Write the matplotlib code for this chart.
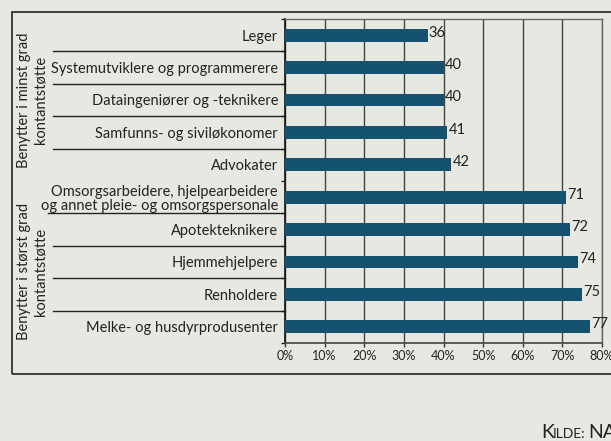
import numpy as np
import matplotlib
matplotlib.use('Agg')
import matplotlib.pyplot as plt
from matplotlib.lines import Line2D
from matplotlib.patches import Rectangle

# data, top to bottom
yrker = ['Leger',
         'Systemutviklere og programmerere',
         'Dataingeniører og -teknikere',
         'Samfunns- og siviløkonomer',
         'Advokater',
         'Omsorgsarbeidere, hjelpearbeidere\nog annet pleie- og omsorgspersonale',
         'Apotekteknikere',
         'Hjemmehjelpere',
         'Renholdere',
         'Melke- og husdyrprodusenter']
andel = [36, 40, 40, 41, 42, 71, 72, 74, 75, 77]
grupper = ['Benytter i minst grad\nkontantstøtte', 'Benytter i størst grad\nkontantstøtte']
xticks = [0, 10, 20, 30, 40, 50, 60, 70, 80]

bg = '#e8e8e3'
bar_col = '#14526f'
plt.rcParams['font.family'] = ['Lato', 'DejaVu Sans']

fig = plt.figure(figsize=(6.11, 4.41), dpi=100, facecolor=bg)
ax = fig.add_axes([285/611, 1-343/441, 317/611, 324/441])
ax.set_facecolor(bg)

n = len(yrker)
y = np.arange(n)
ax.barh(y, andel, height=0.4, color=bar_col, zorder=3)
for yi, v in zip(y, andel):
    ax.text(v + 0.3, yi - 0.08, str(v), va='center', ha='left', fontsize=10.5, color='#222222', zorder=4)

ax.set_xlim(0, 80)
ax.set_ylim(n - 0.5, -0.5)
ax.set_xticks(xticks)
ax.set_xticklabels([f'{t}%' for t in xticks], fontsize=9, color='#222222')
ax.tick_params(axis='x', length=3, width=1, color='#333333', pad=2)
ax.xaxis.grid(True, color='#444444', linewidth=1, zorder=0)
ax.set_axisbelow(True)

ax.set_yticks(y)
ax.set_yticklabels(yrker, fontsize=10.5, color='#222222', linespacing=1.05)
ax.tick_params(axis='y', length=0, pad=5)
ax.set_yticks(np.arange(n + 1) - 0.5, minor=True)
ax.tick_params(axis='y', which='minor', length=3, width=1, color='#222222')

for s in ['top', 'right']:
    ax.spines[s].set_color('#666666')
    ax.spines[s].set_linewidth(1)
ax.spines['left'].set_color('#111111')
ax.spines['bottom'].set_color('#444444')
ax.spines['left'].set_linewidth(1.2)
ax.spines['bottom'].set_linewidth(1.2)

# separator lines in label column
trans = ax.get_yaxis_transform()
for k in range(1, n):
    if k == 5:
        continue
    x0 = -0.748 if k == 6 else -0.732
    ax.add_line(Line2D([x0, 0], [k - 0.5, k - 0.5], transform=trans, color='#222222',
                       linewidth=1, clip_on=False))

# group labels
ax.text(-0.798, 2.0, grupper[0], transform=trans, rotation=90, ha='center', va='center',
        fontsize=10.5, color='#222222', linespacing=1.2)
ax.text(-0.798, 7.3, grupper[1], transform=trans, rotation=90, ha='center', va='center',
        fontsize=10.5, color='#222222', linespacing=1.2)

# outer frame
fig.patches.append(Rectangle((12/611, 1-374/441), 1.2, (374-12)/441, transform=fig.transFigure,
                             fill=False, edgecolor='#222222', linewidth=1.2))

# source, small caps
base = 1 - 438/441
fig.text(541/611, base, 'K', fontsize=14, color='#222222', ha='left', va='baseline')
fig.text(553/611, base, 'ILDE:', fontsize=10, color='#222222', ha='left', va='baseline')
fig.text(588/611, base, 'NAV', fontsize=14, color='#222222', ha='left', va='baseline')

fig.savefig('out.png', dpi=100, facecolor=bg)
